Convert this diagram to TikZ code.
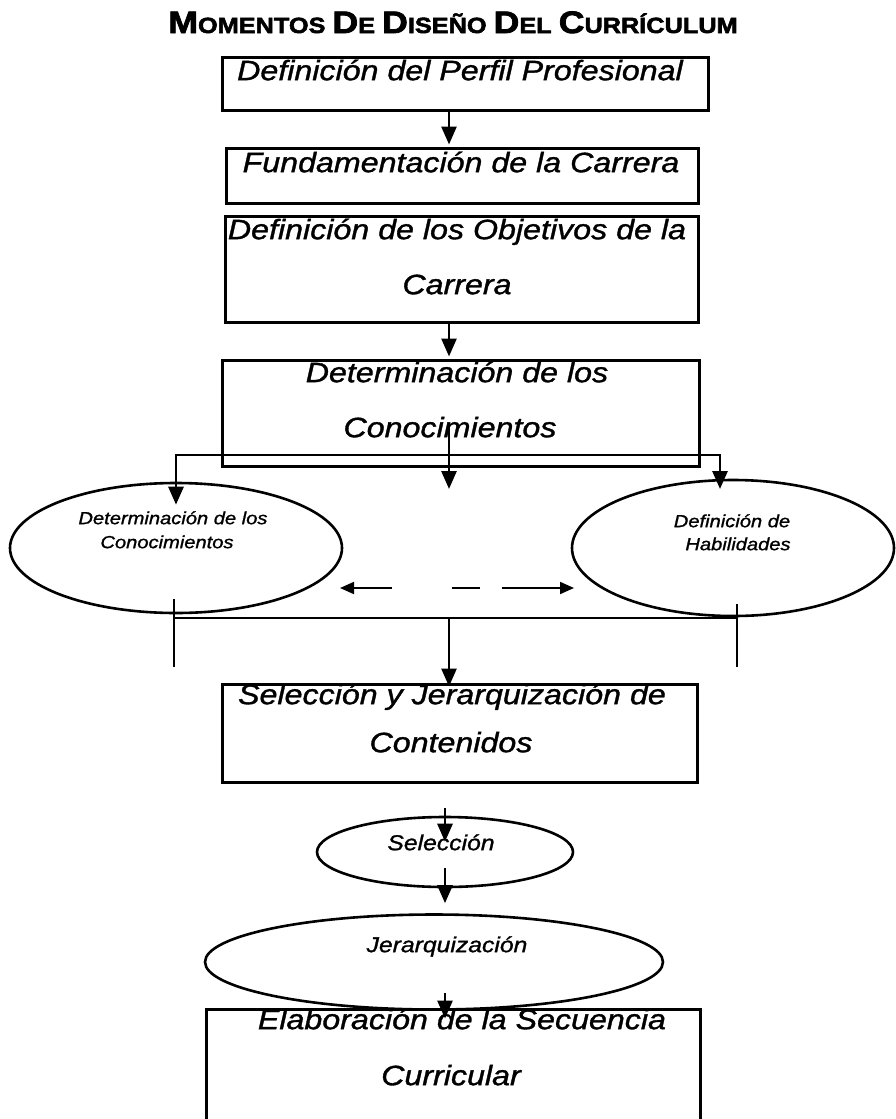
\documentclass[tikz,border=0pt]{standalone}
\usepackage{fontspec}
\usepackage{tikz}
\usetikzlibrary{arrows.meta,shapes.geometric}
\newfontfamily\diagfont[FakeStretch=1.15,FakeBold=1.2]{Liberation Sans}
\newfontfamily\titlefont[FakeStretch=1.15,FakeBold=2.5]{Liberation Sans Bold}
\newcommand\capword[2]{{\fontsize{31}{31}\selectfont #1}{\fontsize{22}{22}\selectfont #2}}

\begin{document}
\begin{tikzpicture}[x=1pt, y=-1pt,
        box/.style={rectangle, draw, line width=3pt, inner sep=0pt},
        boxtext/.style={font=\diagfont\itshape\fontsize{28}{32}\selectfont, anchor=mid, inner sep=0pt},
        oval/.style={ellipse, draw, line width=2.6pt, inner sep=0pt},
        ovaltext/.style={font=\diagfont\itshape\fontsize{17.5}{20}\selectfont, anchor=mid, inner sep=0pt},
        stagetext/.style={font=\diagfont\itshape\fontsize{21.5}{24}\selectfont, anchor=mid, inner sep=0pt},
        arrow/.style={-{Triangle[length=18pt,width=15pt]}, line width=2.8pt},
        link/.style={line width=2.8pt}
    ]
        \useasboundingbox (0,0) rectangle (896,1119);

        % Title
        \node[font=\titlefont\fontsize{22}{22}\selectfont, anchor=base, inner sep=0pt] (title) at (453,33)
            {\capword{M}{OMENTOS} \capword{D}{E} \capword{D}{ISEÑO} \capword{D}{EL} \capword{C}{URRÍCULUM}};

        % Main boxes
        \node[box, minimum width=486pt, minimum height=53pt] (perfil) at (465,83.5) {};
        \node[box, minimum width=472pt, minimum height=55pt] (fund) at (462,175.5) {};
        \node[box, minimum width=473pt, minimum height=106pt] (obj) at (461.5,269) {};
        \node[box, minimum width=477pt, minimum height=106pt] (detcon) at (460.5,413) {};
        \node[box, minimum width=475pt, minimum height=98pt] (selj) at (459.5,733) {};
        \node[box, minimum width=494pt, minimum height=130pt] (elab) at (453,1074) {};

        % Box texts
        \node[boxtext] (perfilT) at (460,78) {Definición del Perfil Profesional};
        \node[boxtext] (fundT) at (461,170) {Fundamentación de la Carrera};
        \node[boxtext] (objT1) at (457,237) {Definición de los Objetivos de la};
        \node[boxtext] (objT2) at (457,292) {Carrera};
        \node[boxtext] (detconT1) at (457,380) {Determinación de los};
        \node[boxtext] (detconT2) at (450,435) {Conocimientos};
        \node[boxtext] (seljT1) at (452,702) {Selección y Jerarquización de};
        \node[boxtext] (seljT2) at (451,750) {Contenidos};
        \node[boxtext] (elabT1) at (462,1027) {Elaboración de la Secuencia};
        \node[boxtext] (elabT2) at (451,1083) {Curricular};

        % Ellipses
        \node[oval, minimum width=332pt, minimum height=130pt] (conocE) at (176,548) {};
        \node[oval, minimum width=322pt, minimum height=136pt] (habilE) at (733,548) {};
        \node[oval, minimum width=256pt, minimum height=70pt] (selE) at (445,852) {};
        \node[oval, minimum width=458pt, minimum height=95pt] (jerE) at (434,962) {};

        % Ellipse texts
        \node[ovaltext] (conocT1) at (173,522) {Determinación de los};
        \node[ovaltext] (conocT2) at (167,546) {Conocimientos};
        \node[ovaltext] (habilT1) at (732,525) {Definición de};
        \node[ovaltext] (habilT2) at (738,548) {Habilidades};
        \node[stagetext] (selT) at (441,848) {Selección};
        \node[stagetext] (jerT) at (447,950) {Jerarquización};

        % Helper coordinates
        \coordinate (spine) at (449,0);
        \coordinate (fork) at (449,455);
        \coordinate (forkL) at (176,455);
        \coordinate (tipR) at (720,489);
        \coordinate (midS) at (449,423);
        \coordinate (midT) at (449,489);
        \coordinate (dashL) at (340,588);
        \coordinate (dashR) at (574,588);
        \coordinate (joinL) at (174,618);
        \coordinate (joinR) at (737,618);
        \coordinate (joinM) at (449,618);
        \coordinate (selS) at (445,808);
        \coordinate (jerS) at (445,868);
        \coordinate (elabS) at (445,993);

        % Vertical flow arrows
        \draw[arrow] (perfil.south -| spine) -- ([yshift=2pt]fund.north -| spine);
        \draw[arrow] (obj.south -| spine) -- ([yshift=2pt]detcon.north -| spine);
        \draw[arrow] (midS) -- (midT);

        % Branch towards the two ellipses
        \draw[arrow] (fork) -- (forkL) -- ([yshift=-23pt]conocE.north -| forkL);
        \draw[arrow] (fork) -| (tipR);
        \draw[{Triangle[length=14pt,width=12pt]}-{Triangle[length=14pt,width=12pt]}, line width=2pt,
              dash pattern=on 38pt off 60pt on 28pt off 22pt on 90pt off 0pt] (dashL) -- (dashR);

        % Joining back
        \draw[link] (joinL) -- (joinR);
        \draw[link] ([yshift=19pt]joinL) -- ([yshift=-49pt]joinL);
        \draw[link] ([yshift=14pt]joinR) -- ([yshift=-49pt]joinR);
        \draw[arrow] (joinM) -- ([yshift=-4pt]selj.north -| spine);

        % Selection, hierarchy and sequence
        \draw[arrow] (selS) -- ([yshift=-26pt]selE.north);
        \draw[arrow] (jerS) -- ([yshift=10pt]jerE.north -| selS);
        \draw[arrow] (elabS) -- ([yshift=-11pt]elab.north -| elabS);
    \end{tikzpicture}
\end{document}
